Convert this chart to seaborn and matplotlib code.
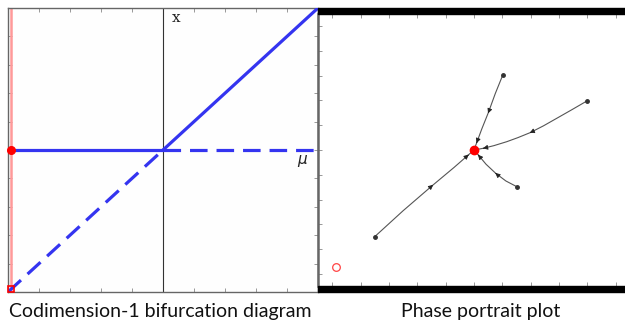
import numpy as np
import pandas as pd
import matplotlib
matplotlib.use("Agg")
import matplotlib.pyplot as plt
from matplotlib.patches import Rectangle
import seaborn as sns

# ---------------- data ----------------
# Left panel: transcritical bifurcation branches (mu, x)
stable_mu_a = [-1.0, 0.0]
stable_x_a = [0.0, 0.0]
stable_mu_b = [0.0, 1.0]
stable_x_b = [0.0, 1.0]
unstable_mu_a = [-1.0, 0.0]
unstable_x_a = [-1.0, 0.0]
unstable_mu_b = [0.0, 1.0]
unstable_x_b = [0.0, 0.0]
current_mu = -0.98
current_eq = [0.0, -0.98]

# Right panel: phase portrait trajectories (x, y)
traj_a_x = [0.203, 0.150, 0.101, 0.055, 0.019, 0.0]
traj_a_y = [0.605, 0.455, 0.301, 0.170, 0.059, 0.0]
traj_b_x = [0.80, 0.690, 0.584, 0.490, 0.396, 0.310, 0.231, 0.140, 0.066, 0.0]
traj_b_y = [0.398, 0.325, 0.256, 0.195, 0.140, 0.100, 0.067, 0.035, 0.014, 0.0]
traj_c_x = [0.302, 0.225, 0.153, 0.085, 0.030, 0.0]
traj_c_y = [-0.296, -0.250, -0.188, -0.115, -0.040, 0.0]
traj_d_x = [-0.70, -0.50, -0.295, -0.140, -0.040, 0.0]
traj_d_y = [-0.699, -0.490, -0.288, -0.140, -0.040, 0.0]
arrow_pts = {"a": [2, 4], "b": [4, 8], "c": [2, 4], "d": [2, 4]}
equilibrium = [0.0, 0.0]
initial_marker = [-0.975, -0.944]

titles = ["Codimension-1 bifurcation diagram", "Phase portrait plot"]

# ---------------- figure ----------------
sns.set_theme(style="white")
plt.rcParams["font.family"] = ["Lato", "DejaVu Sans"]

W, H = 625, 322
fig = plt.figure(figsize=(W / 100, H / 100), dpi=100)
fig.patch.set_facecolor("white")

# ----- left panel -----
axL = fig.add_axes([8 / W, (H - 292) / H, 310 / W, 284 / H])
axL.set_xlim(-1, 1)
axL.set_ylim(-1, 1)
blue = "#3434f0"
lw = 2.3
axL.axvline(0, color="#333333", lw=0.8, zorder=1)
axL.axvline(current_mu, color="#ff9999", lw=1.8, zorder=2)
sns.lineplot(x=stable_mu_a, y=stable_x_a, ax=axL, color=blue, lw=lw, zorder=3)
sns.lineplot(x=stable_mu_b, y=stable_x_b, ax=axL, color=blue, lw=lw, zorder=3)
sns.lineplot(x=unstable_mu_a, y=unstable_x_a, ax=axL, color=blue, lw=lw, zorder=3)
axL.lines[-1].set_dashes((5.5, 2.8))
sns.lineplot(x=unstable_mu_b, y=unstable_x_b, ax=axL, color=blue, lw=lw, zorder=3)
axL.lines[-1].set_dashes((5.5, 2.8))
axL.plot([current_mu], [current_eq[0]], "o", color="red", ms=5.5, zorder=5, clip_on=False)
axL.plot([current_mu], [current_eq[1]], "s", mfc="none", mec="red", ms=5, mew=1.2, zorder=5, clip_on=False)
axL.text(0.06, 0.93, "x", fontsize=11, family="DejaVu Serif", ha="left", va="center", color="#222222")
axL.text(0.90, -0.08, r"$\mu$", fontsize=11, ha="center", va="center", color="#222222")
ticks = np.round(np.arange(-0.8, 0.81, 0.2), 2)
axL.set_xticks(ticks)
axL.set_yticks(ticks)
axL.tick_params(direction="in", length=3, width=0.6, color="#888888",
                top=True, right=True, bottom=True, left=True,
                labelbottom=False, labelleft=False)
for s in axL.spines.values():
    s.set_color("#666666")
    s.set_linewidth(1.0)
axL.set_facecolor("#fefefe")
axL.set_xlabel("")
axL.set_ylabel("")

# ----- right panel -----
axR = fig.add_axes([318 / W, (H - 286) / H, 312 / W, 272 / H])
axR.set_xlim(-1.1, 1.1)
axR.set_ylim(-1.097, 1.097)
gray = "#555555"
trajs = {"a": (traj_a_x, traj_a_y), "b": (traj_b_x, traj_b_y),
         "c": (traj_c_x, traj_c_y), "d": (traj_d_x, traj_d_y)}
for key, (tx, ty) in trajs.items():
    df = pd.DataFrame({"x": tx, "y": ty})
    sns.lineplot(data=df, x="x", y="y", sort=False, ax=axR, color=gray, lw=0.8, zorder=2)
    axR.plot([tx[0]], [ty[0]], "o", color="#333333", ms=2.5, zorder=3)
    for i in arrow_pts[key]:
        dx = tx[i + 1] - tx[i - 1]
        dy = ty[i + 1] - ty[i - 1]
        axR.annotate("", xy=(tx[i] + 0.02 * dx, ty[i] + 0.02 * dy),
                     xytext=(tx[i] - 0.02 * dx, ty[i] - 0.02 * dy),
                     arrowprops=dict(arrowstyle="-|>", color="#222222", lw=0.6,
                                     mutation_scale=7, shrinkA=0, shrinkB=0),
                     zorder=4)
axR.plot([equilibrium[0]], [equilibrium[1]], "o", color="red", ms=6, zorder=5)
axR.plot([initial_marker[0]], [initial_marker[1]], "o", mfc="none", mec="#ff4444",
         ms=5.5, mew=0.9, zorder=5)
axR.set_xticks(np.round(np.arange(-1.0, 1.01, 0.2), 2))
axR.set_yticks(np.round(np.arange(-1.0, 1.01, 0.2), 2))
axR.tick_params(direction="in", length=3, width=0.6, color="#888888",
                top=True, bottom=True, left=True, right=False,
                labelbottom=False, labelleft=False)
axR.set_ylabel("")
axR.set_xlabel("")
axR.spines["top"].set_visible(False)
axR.spines["bottom"].set_visible(False)
axR.spines["right"].set_visible(False)
axR.spines["left"].set_color("#666666")
axR.spines["left"].set_linewidth(1.8)
band = 6 / 272
axR.add_patch(Rectangle((0, 1), 1, band, transform=axR.transAxes, color="black",
                        clip_on=False, zorder=6))
axR.add_patch(Rectangle((0, -band), 1, band, transform=axR.transAxes, color="black",
                        clip_on=False, zorder=6))

# ----- captions -----
fig.text(160 / W, 1 - 312 / H, titles[0], fontsize=14, ha="center", va="center", color="#111111")
fig.text(481 / W, 1 - 312 / H, titles[1], fontsize=14, ha="center", va="center", color="#111111")

fig.savefig("out.png", dpi=100, facecolor="white")
